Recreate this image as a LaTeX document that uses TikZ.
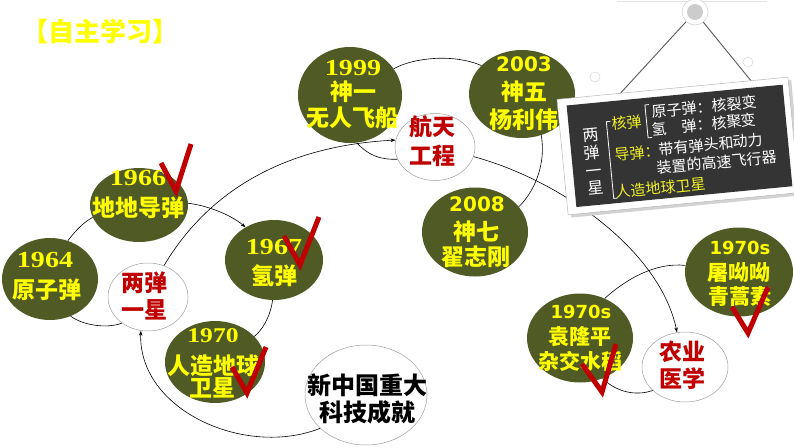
\documentclass[tikz,border=0pt]{standalone}
\usepackage{fontspec}
\usetikzlibrary{shapes.geometric,arrows.meta}
\newfontfamily\cjk{Noto Sans CJK SC}
\newfontfamily\numser{Liberation Serif}[FakeStretch=1.22]
\newfontfamily\numsans{DejaVu Sans}
\definecolor{nodeolive}{RGB}{79,90,36}
\definecolor{ylw}{RGB}{255,255,0}
\definecolor{redtxt}{RGB}{192,0,0}
\definecolor{chkred}{RGB}{192,0,0}
\definecolor{boarddark}{RGB}{52,52,52}
\definecolor{boardylw}{RGB}{240,240,40}
\begin{document}
\begin{tikzpicture}[x=1pt,y=-1pt,
  oliveell/.style={ellipse, fill=nodeolive, draw=none, inner sep=0pt},
  whiteell/.style={ellipse, fill=white, draw=gray!75, line width=0.5pt, inner sep=0pt},
  yd/.style={text=ylw, inner sep=0pt, font=\numser\bfseries\fontsize{23pt}{23pt}\selectfont},
  ydsmall/.style={text=ylw, inner sep=0pt, font=\numser\bfseries\fontsize{21pt}{21pt}\selectfont},
  ys/.style={text=ylw, inner sep=0pt, font=\numsans\bfseries\fontsize{20pt}{20pt}\selectfont},
  yss/.style={text=ylw, inner sep=0pt, font=\numsans\bfseries\fontsize{18pt}{18pt}\selectfont},
  yc/.style={text=ylw, inner sep=0pt, font=\cjk\bfseries\fontsize{23pt}{23pt}\selectfont},
  ycs/.style={text=ylw, inner sep=0pt, font=\cjk\bfseries\fontsize{21pt}{21pt}\selectfont},
  rc/.style={text=redtxt, inner sep=0pt, font=\cjk\bfseries\fontsize{23pt}{23pt}\selectfont},
  bc/.style={text=black, inner sep=0pt, font=\cjk\bfseries\fontsize{24pt}{24pt}\selectfont},
  bw/.style={text=white, inner sep=0pt, transform shape, font=\cjk\fontsize{15pt}{15pt}\selectfont},
  by/.style={text=boardylw, inner sep=0pt, transform shape, font=\cjk\fontsize{15pt}{15pt}\selectfont},
  conn/.style={draw=black, line width=0.6pt},
  arr/.style={conn, -{Stealth[length=5pt,width=3.5pt]}},
  chk/.style={draw=chkred, line width=5pt, line join=miter, line cap=butt}
]
\useasboundingbox (0,0) rectangle (794,447);

% title
\node[text=ylw, inner sep=0pt, font=\cjk\bfseries\fontsize{26pt}{26pt}\selectfont] (title) at (100,31) {【自主学习】};

% ellipses
\node[oliveell, minimum width=96pt, minimum height=82pt] (e1964) at (50,279) {};
\node[oliveell, minimum width=98pt, minimum height=74pt] (e1966) at (139,205) {};
\node[oliveell, minimum width=98pt, minimum height=80pt] (e1967) at (274,260) {};
\node[oliveell, minimum width=100pt, minimum height=82pt] (e1970) at (215,362) {};
\node[whiteell, minimum width=80pt, minimum height=68pt] (lds) at (148,297) {};
\node[whiteell, minimum width=122pt, minimum height=100pt] (ctr) at (366,395) {};
\node[oliveell, minimum width=104pt, minimum height=96pt] (e1999) at (350,95) {};
\node[whiteell, minimum width=80pt, minimum height=67pt] (htgc) at (435,147) {};
\node[oliveell, minimum width=106pt, minimum height=88pt] (e2003) at (522,94) {};
\node[oliveell, minimum width=106pt, minimum height=89pt] (e2008) at (475,232) {};
\node[oliveell, minimum width=106pt, minimum height=89pt] (eyuan) at (580,338) {};
\node[oliveell, minimum width=108pt, minimum height=89pt] (etu) at (739,272) {};
\node[whiteell, minimum width=86pt, minimum height=70pt] (nyyx) at (685,367) {};

% connectors
\draw[arr] (ctr.216) .. controls (245,458) and (138,410) .. (lds.258);
\draw[arr] (lds.63) .. controls (215,180) and (300,145) .. (htgc.170);
\draw[arr] (htgc.346) .. controls (560,180) and (660,250) .. (nyyx.103);
\draw[conn] (lds.225) .. controls (110,328) and (86,327) .. (e1964.299);
\draw[conn] (e1964.65) .. controls (76,230) and (84,222) .. (e1966.195);
\draw[arr] (e1966.2) .. controls (205,205) and (230,214) .. (e1967.131);
\draw[conn] (e1967.268) .. controls (270,318) and (262,330) .. (e1970.33);
\draw[conn] (e1999.278) .. controls (368,155) and (380,160) .. (htgc.198);
\draw[conn] (e1999.31) .. controls (415,57) and (455,54) .. (e2003.145);
\draw[conn] (e2003.295) .. controls (546,162) and (536,190) .. (e2008.30);
\draw[conn] (eyuan.58) .. controls (625,280) and (655,262) .. (etu.173);
\draw[conn] (nyyx.216) .. controls (640,395) and (620,395) .. (eyuan.299);

% texts
\node[yd] (t1964a) at (45,260) {1964};
\node[yc] (t1964b) at (47,290) {原子弹};
\node[yd] (t1966a) at (138,178) {1966};
\node[yc] (t1966b) at (138,208) {地地导弹};
\node[yd] (t1967a) at (274,247) {1967};
\node[yc] (t1967b) at (274,276) {氢弹};
\node[ydsmall] (t1970a) at (213,336) {1970};
\node[yc] (t1970b) at (213,366) {人造地球};
\node[yc] (t1970c) at (212,388) {卫星};
\node[rc] (tlds1) at (144,283) {两弹};
\node[rc] (tlds2) at (144,310) {一星};
\node[bc] (tctr1) at (367,385) {新中国重大};
\node[bc] (tctr2) at (367,412) {科技成就};
\node[yd] (t1999a) at (353,68) {1999};
\node[yc] (t1999b) at (353,92) {神一};
\node[yc] (t1999c) at (352,118) {无人飞船};
\node[rc] (thtgc1) at (432,127) {航天};
\node[rc] (thtgc2) at (432,156) {工程};
\node[ys] (t2003a) at (524,64) {2003};
\node[yc] (t2003b) at (524,92) {神五};
\node[yc] (t2003c) at (524,120) {杨利伟};
\node[ys] (t2008a) at (477,204) {2008};
\node[yc] (t2008b) at (476,232) {神七};
\node[yc] (t2008c) at (476,257) {翟志刚};
\node[yss] (tyuan1) at (581,312) {1970s};
\node[ycs] (tyuan2) at (580,337) {袁隆平};
\node[ycs] (tyuan3) at (580,361) {杂交水稻};
\node[yss] (ttu1) at (740,248) {1970s};
\node[ycs] (ttu2) at (739,272) {屠呦呦};
\node[ycs] (ttu3) at (740,297) {青蒿素};
\node[rc] (tny1) at (682,352) {农业};
\node[rc] (tny2) at (682,379) {医学};

% check marks
\draw[chk] (161,163) -- (176,191) -- (191,144);
\draw[chk] (284,236) -- (300,265) -- (319,217);
\draw[chk] (232,367) -- (247,393) -- (266,347);
\draw[chk] (582,364) -- (602,392) -- (616,344);
\draw[chk] (732,307) -- (748,333) -- (768,287);

% hanging sign
\draw[gray!20, line width=1pt] (617,1) -- (767,1);
\draw[gray!30, line width=0.6pt] (595,77) circle (5);
\draw[gray!30, line width=0.6pt] (748,62) circle (5);
\coordinate (sL) at (617,97);
\coordinate (sR) at (752,82);
\node[circle, fill=white, draw=gray!35, line width=0.6pt, minimum size=26pt, inner sep=0pt] (hook) at (695,12) {};
\fill[gray!40] (hook.center) circle (8);
\draw[gray!70!black, line width=0.9pt] (hook) -- (sL);
\draw[gray!70!black, line width=0.9pt] (hook) -- (sR);

\begin{scope}[shift={(678,146)}, rotate=5.5]
  \fill[gray!35] (-113,-55) rectangle (119,61);
  \draw[gray!55, fill=white, line width=0.5pt] (-116,-58) rectangle (116,58);
  \fill[boarddark] (-107,-51) rectangle (110,51);
  \node[bw, align=center, font=\cjk\fontsize{16pt}{17.7pt}\selectfont] (bd1) at (-86,7.6) {两\\弹\\一\\星};
  \draw[white, line width=0.8pt] (-65,-31) -- (-69,-31) -- (-69,46) -- (-65,46);
  \node[by, anchor=west] (bd2) at (-64,-28) {核弹};
  \draw[white, line width=0.8pt] (-25,-44) -- (-29,-44) -- (-29,-11) -- (-25,-11);
  \node[bw] (bd3) at (30,-36.5) {原子弹：核裂变};
  \node[bw] (bd4) at (28,-19) {氢　弹：核聚变};
  \node[by, anchor=west] (bd5) at (-64,3) {导弹：};
  \node[bw] (bd6) at (33,1.5) {带有弹头和动力};
  \node[bw] (bd7) at (37,20) {装置的高速飞行器};
  \node[by, anchor=west] (bd8) at (-66,40) {人造地球卫星};
\end{scope}
\end{tikzpicture}
\end{document}
